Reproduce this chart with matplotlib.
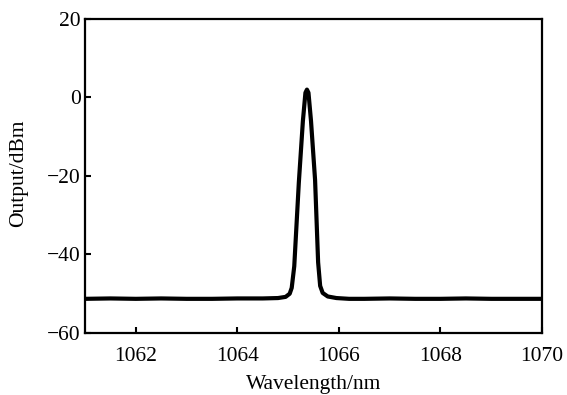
import matplotlib
matplotlib.use("Agg")
import matplotlib.pyplot as plt

plt.rcParams['font.family'] = ['Liberation Serif', 'DejaVu Serif']
plt.rcParams['axes.unicode_minus'] = True

wavelength = [1061.0, 1061.5, 1062.0, 1062.5, 1063.0, 1063.5, 1064.0, 1064.5,
              1064.8, 1064.95, 1065.03, 1065.07, 1065.12, 1065.21, 1065.29,
              1065.34, 1065.37, 1065.40, 1065.45, 1065.53, 1065.59, 1065.63,
              1065.68, 1065.78, 1065.95, 1066.2, 1066.5, 1067.0, 1067.5,
              1068.0, 1068.5, 1069.0, 1069.5, 1070.0]
output_dbm = [-51.3, -51.2, -51.3, -51.2, -51.3, -51.3, -51.2, -51.2,
              -51.1, -50.8, -50.0, -48.5, -43.0, -21.7, -6.0,
              1.2, 2.0, 1.2, -6.0, -21.0, -42.0, -48.0,
              -49.8, -50.7, -51.1, -51.3, -51.3, -51.2, -51.3,
              -51.3, -51.2, -51.3, -51.3, -51.3]

xticks = [1062, 1064, 1066, 1068, 1070]
yticks = [-60, -40, -20, 0, 20]

fig = plt.figure(figsize=(5.67, 3.95), dpi=100)
ax = fig.add_axes([0.150, 0.157, 0.806, 0.795])
ax.plot(wavelength, output_dbm, color='black', lw=3.0, solid_joinstyle='round', solid_capstyle='round')
ax.set_xlim(1061, 1070)
ax.set_ylim(-60, 20)
ax.set_xticks(xticks)
ax.set_yticks(yticks)
ax.set_xticklabels([str(t) for t in xticks])
ax.set_yticklabels(['\u221260', '\u221240', '\u221220', '0', '20'])
ax.tick_params(direction='in', length=4, width=1.5, labelsize=15.5,
               top=False, right=False)
ax.tick_params(axis='x', pad=10)
ax.tick_params(axis='y', pad=3)
for s in ax.spines.values():
    s.set_linewidth(1.6)
ax.set_xlabel('Wavelength/nm', fontsize=15.5)
ax.set_ylabel('Output/dBm', fontsize=15.5)
ax.xaxis.set_label_coords(0.5, -0.133)
ax.yaxis.set_label_coords(-0.125, 0.51)
fig.savefig('out.png', dpi=100)
